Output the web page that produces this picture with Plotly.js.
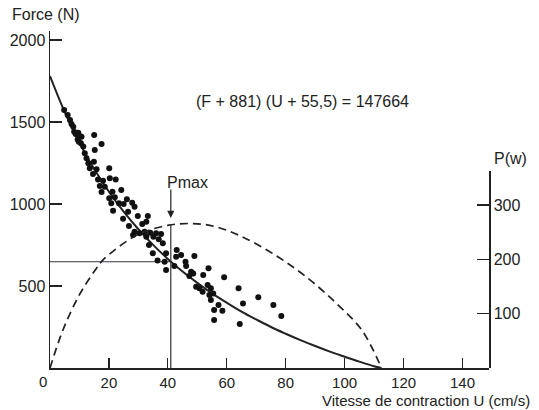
<!DOCTYPE html>
<html>
<head>
<meta charset="utf-8">
<script src="https://cdn.plot.ly/plotly-3.0.1.min.js"></script>
<style>html,body{margin:0;padding:0;background:#fff;}#chart{width:539px;height:410px;}</style>
</head>
<body>
<div id="chart"></div>
<script>
// Measured points: contraction velocity U (cm/s) and force F (N)
const pointU = [4.8,6.0,6.8,7.3,7.9,8.2,8.7,9.6,10.1,10.7,9.4,9.8,10.5,11.3,15.0,17.5,15.2,11.8,12.4,
  13.0,14.9,13.5,15.8,20.1,14.6,16.3,18.0,20.3,22.3,16.9,18.6,17.5,21.2,24.2,20.1,22.0,26.1,20.8,23.4,25.0,21.4,27.9,28.7,26.5,29.8,24.8,31.3,32.7,26.8,28.7,32.1,28.2,
  33.2,30.4,34.0,36.0,37.7,32.7,35.1,36.9,33.6,38.3,34.9,39.4,38.9,39.4,36.5,
  43.0,44.5,42.8,42.2,46.0,46.2,49.0,47.9,48.6,47.3,52.0,53.8,49.6,50.7,51.8,53.5,54.6,54.1,55.4,54.6,59.1,64.0,57.2,55.7,58.5,55.7,64.4,65.5,
  70.7,75.8,78.5];
const pointF = [1573,1543,1512,1488,1471,1441,1427,1435,1415,1410,1394,1380,1370,1350,1421,1366,1329,1309,1279,
  1248,1258,1218,1212,1218,1183,1150,1142,1157,1150,1110,1106,1073,1075,1085,1035,1041,1029,1004,1004,1000,959,1008,984,953,927,910,878,892,866,831,831,811,
  927,821,825,821,817,801,801,785,750,760,699,699,648,598,656,
  720,689,679,622,648,622,683,587,577,561,567,608,496,486,465,506,486,445,455,415,553,486,384,354,349,293,268,394,
  431,384,317];

// Force-velocity curve (solid)
const curveU = [0,5,10,15,20,25,30,35,40,45,50,55,60,65,70,75,80,85,90,95,100,105,110,112.5];
const curveF = [1780,1560,1373,1213,1075,953,846,751,665,588,519,455,398,344,296,250,209,170,134,100,69,39,11,0];

// Power curve (dashed, right axis, W)
const powerU = [0,4.4,9.8,15.3,18,26.2,31.6,40.3,48,55.6,64.3,75.2,86.2,97,105.8,112.5];
const powerP = [0,70,133,180,199,234,250,263,266,261,244,212,171,120,70,0];

// Pmax marker values
const pmaxU = [41, 41];
const pmaxP = [0, 263];
const pmaxLineU = [0, 41];
const pmaxLineF = [648, 648];

const xTicks = [20,40,60,80,100,120,140];
const yTicks = [500,1000,1500,2000];
const y2Ticks = [100,200,300];

const FONT = 'Liberation Sans, Arial, sans-serif';
const INK = '#222';

const traces = [
  {x: pmaxLineU, y: pmaxLineF, mode:'lines', line:{color:'#3d3346', width:1.2}, hoverinfo:'skip', xaxis:'x', yaxis:'y'},
  {x: pmaxU, y: pmaxP, mode:'lines', line:{color:'#333', width:1.2}, hoverinfo:'skip', xaxis:'x', yaxis:'y2'},
  {x: powerU, y: powerP, mode:'lines', line:{color:INK, width:1.7, dash:'8px,5px', shape:'spline', smoothing:1}, xaxis:'x', yaxis:'y2'},
  {x: curveU, y: curveF, mode:'lines', line:{color:INK, width:2, shape:'spline', smoothing:1}, xaxis:'x', yaxis:'y'},
  {x: pointU, y: pointF, mode:'markers', marker:{color:'#111', size:6}, xaxis:'x', yaxis:'y'}
];

function note(x, y, text, size, xanchor) {
  return {xref:'paper', yref:'paper', x:x, y:y, text:text, showarrow:false,
    xanchor: xanchor || 'center', yanchor:'middle', font:{size:size, family:FONT, color:INK}};
}

const layout = {
  width:539, height:410,
  margin:{l:50, r:50, t:31, b:42},
  paper_bgcolor:'#fff', plot_bgcolor:'rgba(0,0,0,0)',
  showlegend:false,
  font:{family:FONT, color:INK, size:16},
  xaxis:{range:[0,149], showline:true, linecolor:INK, linewidth:1.5, ticks:'inside', ticklen:10, tickwidth:1.2, tickcolor:INK,
    tickvals:xTicks, showgrid:false, zeroline:false, tickfont:{size:15, family:FONT, color:INK}, anchor:'y'},
  yaxis:{range:[0,2055], showline:true, linecolor:INK, linewidth:1.5, ticks:'inside', ticklen:12, tickwidth:1.2, tickcolor:INK,
    tickvals:yTicks, showgrid:false, zeroline:false, tickfont:{size:16, family:FONT, color:INK}, anchor:'x', domain:[0,1]},
  yaxis2:{range:[0,363], domain:[0,0.585], side:'right', anchor:'x', showline:true, linecolor:INK, linewidth:1.5, ticks:'inside', ticklen:12, tickwidth:1.2, tickcolor:INK,
    tickvals:y2Ticks, showgrid:false, zeroline:false, tickfont:{size:16, family:FONT, color:INK}},
  annotations:[
    note(-0.009, 1.050, 'Force (N)', 16),
    note(1.048, 0.623, 'P(w)', 16),
    note(-0.016, -0.040, '0', 15),
    note(1.098, -0.095, 'Vitesse de contraction U (cm/s)', 15, 'right'),
    note(0.575, 0.792, '(F + 881) (U + 55,5) = 147664', 16),
    note(0.313, 0.549, 'Pmax', 16),
    {xref:'x', yref:'y', x:41, y:915, ax:0, ay:-30, text:'', showarrow:true, arrowhead:2, arrowsize:1.2, arrowwidth:1.2, arrowcolor:INK}
  ]
};

Plotly.newPlot('chart', traces, layout, {displayModeBar:false, staticPlot:true});
</script>
</body>
</html>
